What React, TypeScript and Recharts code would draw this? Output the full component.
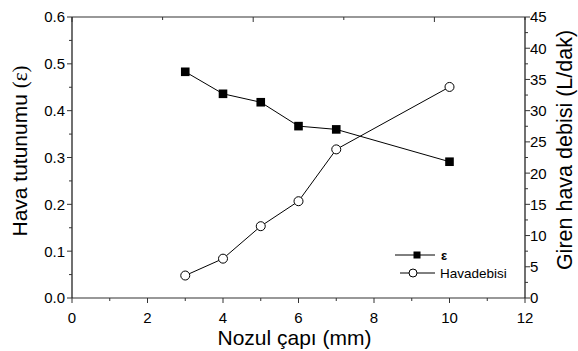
import React from 'react';
import { ComposedChart, Line, XAxis, YAxis, Legend, Label } from 'recharts';

const nozzleDiameters = [3, 4, 5, 6, 7, 10];
const epsilonValues = [0.483, 0.436, 0.418, 0.367, 0.36, 0.291];
const airFlowValues = [3.6, 6.3, 11.5, 15.5, 23.8, 33.8];

const xMajorTicks = [0, 2, 4, 6, 8, 10, 12];
const xMinorTicks = [1, 3, 5, 7, 9, 11];
const leftMajorTicks = [0, 0.1, 0.2, 0.3, 0.4, 0.5, 0.6];
const leftMinorTicks = [0.05, 0.15, 0.25, 0.35, 0.45, 0.55];
const rightMajorTicks = [0, 5, 10, 15, 20, 25, 30, 35, 40, 45];
const rightMinorTicks = [2.5, 7.5, 12.5, 17.5, 22.5, 27.5, 32.5, 37.5, 42.5];

const data = nozzleDiameters.map((x, i) => ({ x, eps: epsilonValues[i], hava: airFlowValues[i] }));

const FONT = '"Liberation Sans", Arial, sans-serif';
const AX = '#333';
const MAJ = 5;
const MIN = 3;
const TICK_FS = 15;
const TITLE_FS = 21;

const isIn = (arr: number[], v: number) => arr.some((a) => Math.abs(a - v) < 1e-9);

const BottomTick = (p: any) => {
  const major = isIn(xMajorTicks, p.payload.value);
  return (
    <g>
      <line x1={p.x} x2={p.x} y1={p.y} y2={p.y + (major ? MAJ : MIN)} stroke={AX} strokeWidth={1} />
      {major && (
        <text x={p.x} y={p.y + 25} textAnchor="middle" fontSize={TICK_FS} fontFamily={FONT} fill="#000">
          {p.payload.value}
        </text>
      )}
    </g>
  );
};

const TopTick = (p: any) => {
  const major = isIn(xMajorTicks, p.payload.value);
  return <line x1={p.x} x2={p.x} y1={p.y} y2={p.y + (major ? MAJ : MIN)} stroke={AX} strokeWidth={1} />;
};

const LeftTick = (p: any) => {
  const major = isIn(leftMajorTicks, p.payload.value);
  return (
    <g>
      <line x1={p.x} x2={p.x - (major ? MAJ : MIN)} y1={p.y} y2={p.y} stroke={AX} strokeWidth={1} />
      {major && (
        <text x={p.x - 7} y={p.y} dy="0.36em" textAnchor="end" fontSize={TICK_FS} fontFamily={FONT} fill="#000">
          {Number(p.payload.value).toFixed(1)}
        </text>
      )}
    </g>
  );
};

const RightTick = (p: any) => {
  const major = isIn(rightMajorTicks, p.payload.value);
  return (
    <g>
      <line x1={p.x} x2={p.x + (major ? MAJ : MIN)} y1={p.y} y2={p.y} stroke={AX} strokeWidth={1} />
      {major && (
        <text x={p.x + 5} y={p.y} dy="0.36em" textAnchor="start" fontSize={TICK_FS} fontFamily={FONT} fill="#000">
          {p.payload.value}
        </text>
      )}
    </g>
  );
};

const SquareDot = (p: any) => {
  if (p.cx == null || p.cy == null) return null;
  return <rect x={p.cx - 4.3} y={p.cy - 4.3} width={8.6} height={8.6} fill="#000" />;
};

const CircleDot = (p: any) => {
  if (p.cx == null || p.cy == null) return null;
  return <circle cx={p.cx} cy={p.cy} r={4.5} fill="#fff" stroke="#000" strokeWidth={1} />;
};

const LegendContent = () => (
  <svg width={140} height={42}>
    <line x1={5} x2={45} y1={12} y2={12} stroke="#000" strokeWidth={1} />
    <rect x={23.5} y={8.5} width={7} height={7} fill="#000" />
    <text x={51} y={12} dy="0.36em" fontSize={13} fontWeight="bold" fontFamily={FONT}>ε</text>
    <line x1={10} x2={45} y1={30} y2={30} stroke="#000" strokeWidth={1} />
    <circle cx={23} cy={30} r={4} fill="#fff" stroke="#000" strokeWidth={1} />
    <text x={50} y={30} dy="0.36em" fontSize={13.5} fontFamily={FONT}>Havadebisi</text>
  </svg>
);

const XTitle = (p: any) => {
  const vb = p.viewBox;
  return (
    <text x={vb.x + vb.width / 2 - 4} y={345} textAnchor="middle" fontSize={TITLE_FS} fontFamily={FONT} fill="#000">
      Nozul çapı (mm)
    </text>
  );
};

const LeftTitle = () => {
  const cx = 27;
  const cy = 151;
  return (
    <text x={cx} y={cy} textAnchor="middle" transform={`rotate(-90, ${cx}, ${cy})`} fontSize={TITLE_FS} fontFamily={FONT} fill="#000">
      Hava tutunumu <tspan fontFamily='"Liberation Serif", serif'>(ε)</tspan>
    </text>
  );
};

const RightTitle = () => {
  const cx = 572;
  const cy = 150;
  return (
    <text x={cx} y={cy} textAnchor="middle" transform={`rotate(-90, ${cx}, ${cy})`} fontSize={21.5} fontFamily={FONT} fill="#000">
      Giren hava debisi (L/dak)
    </text>
  );
};

export default function App() {
  return (
    <div style={{ position: 'absolute', left: 0, top: 0, background: '#fff' }}>
      <ComposedChart width={578} height={351} data={data} margin={{ top: 0, right: 0, bottom: 0, left: 0 }}>
        <XAxis
          xAxisId="b"
          dataKey="x"
          type="number"
          domain={[0, 12]}
          ticks={[...xMajorTicks, ...xMinorTicks].sort((a, b) => a - b)}
          interval={0}
          tickLine={false}
          tickSize={0}
          tickMargin={0}
          tick={<BottomTick />}
          axisLine={{ stroke: AX, strokeWidth: 1.2 }}
          height={53}
        >
          <Label content={<XTitle />} />
        </XAxis>
        <XAxis
          xAxisId="t"
          orientation="top"
          type="number"
          domain={[0, 12]}
          ticks={[...xMajorTicks, ...xMinorTicks].sort((a, b) => a - b)}
          interval={0}
          tickLine={false}
          tickSize={0}
          tickMargin={0}
          tick={<TopTick />}
          axisLine={{ stroke: AX, strokeWidth: 1.2 }}
          height={17}
        />
        <YAxis
          yAxisId="l"
          type="number"
          domain={[0, 0.6]}
          ticks={[...leftMajorTicks, ...leftMinorTicks].sort((a, b) => a - b)}
          interval={0}
          tickLine={false}
          tickSize={0}
          tickMargin={0}
          tick={<LeftTick />}
          axisLine={{ stroke: '#111', strokeWidth: 1.2 }}
          width={72}
        >
          <Label content={<LeftTitle />} />
        </YAxis>
        <YAxis
          yAxisId="r"
          orientation="right"
          type="number"
          domain={[0, 45]}
          ticks={[...rightMajorTicks, ...rightMinorTicks].sort((a, b) => a - b)}
          interval={0}
          tickLine={false}
          tickSize={0}
          tickMargin={0}
          tick={<RightTick />}
          axisLine={{ stroke: '#111', strokeWidth: 1.2 }}
          width={53}
        >
          <Label content={<RightTitle />} />
        </YAxis>
        <Line
          xAxisId="b"
          yAxisId="l"
          type="linear"
          dataKey="eps"
          stroke="#000"
          strokeWidth={1}
          dot={<SquareDot />}
          activeDot={false}
          isAnimationActive={false}
        />
        <Line
          xAxisId="b"
          yAxisId="r"
          type="linear"
          dataKey="hava"
          stroke="#000"
          strokeWidth={1}
          dot={<CircleDot />}
          activeDot={false}
          isAnimationActive={false}
        />
        <Legend
          layout="vertical"
          align="center"
          verticalAlign="middle"
          content={<LegendContent />}
          wrapperStyle={{ left: 390, top: 243, width: 140, height: 42 }}
        />
      </ComposedChart>
    </div>
  );
}
